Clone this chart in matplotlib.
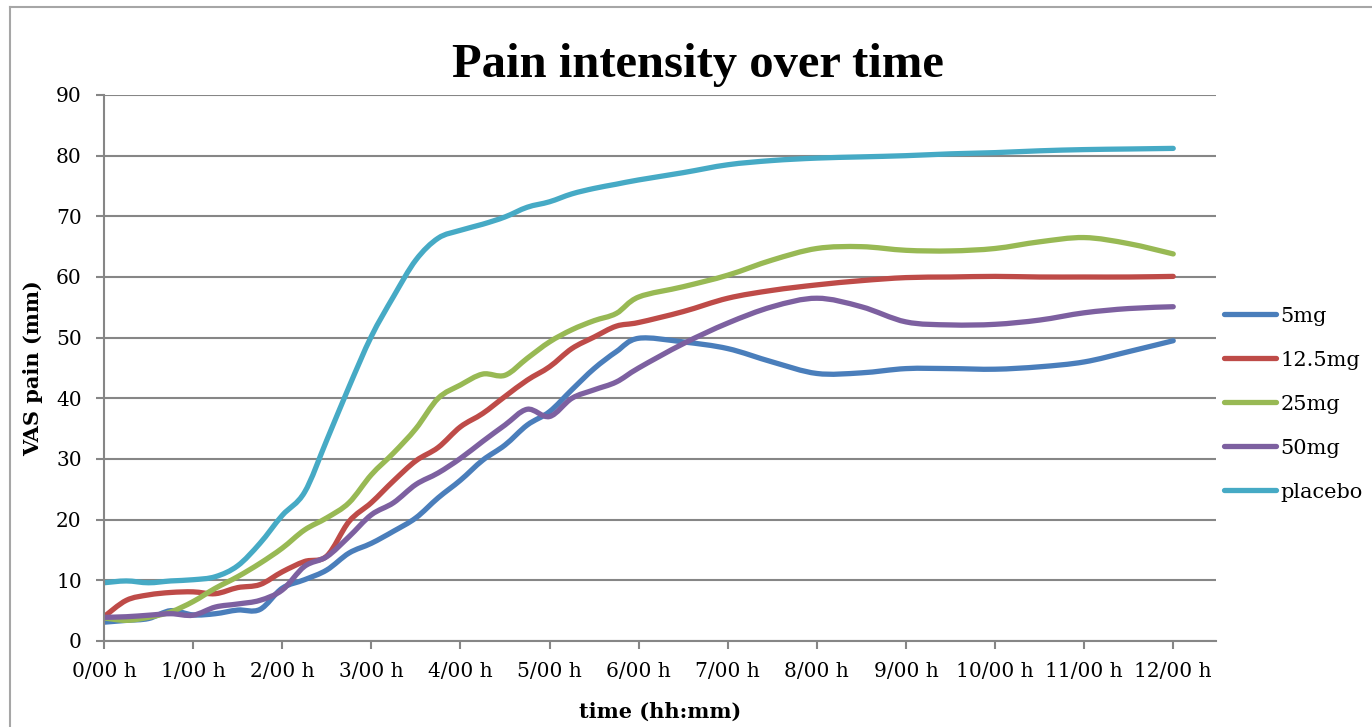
import numpy as np
import matplotlib
matplotlib.use("Agg")
import matplotlib.pyplot as plt
from matplotlib.path import Path
from matplotlib.patches import PathPatch
from matplotlib.lines import Line2D

# time in hours: every 15 min up to 6 h, then every 30 min
hours = [0.0, 0.25, 0.5, 0.75, 1.0, 1.25, 1.5, 1.75, 2.0, 2.25, 2.5, 2.75,
         3.0, 3.25, 3.5, 3.75, 4.0, 4.25, 4.5, 4.75, 5.0, 5.25, 5.5, 5.75,
         6.0, 6.5, 7.0, 7.5, 8.0, 8.5, 9.0, 9.5, 10.0, 10.5, 11.0, 11.5, 12.0]

pain_5mg = [3.1, 3.4, 3.7, 5.0, 4.3, 4.5, 5.1, 5.2, 8.7, 10.1, 11.7, 14.5,
            16.1, 18.1, 20.3, 23.6, 26.5, 29.8, 32.3, 35.6, 37.8, 41.4, 44.9, 47.7,
            49.9, 49.3, 48.2, 46.0, 44.1, 44.2, 44.9, 44.9, 44.8, 45.2, 46.0, 47.7, 49.5]
pain_12_5mg = [4.0, 6.7, 7.6, 8.0, 8.1, 7.8, 8.8, 9.3, 11.4, 13.1, 14.0, 19.7,
               22.8, 26.4, 29.7, 31.9, 35.3, 37.5, 40.3, 43.0, 45.2, 48.2, 50.1, 51.9,
               52.5, 54.3, 56.5, 57.8, 58.7, 59.4, 59.9, 60.0, 60.1, 60.0, 60.0, 60.0, 60.1]
pain_25mg = [3.8, 3.4, 3.9, 4.8, 6.5, 8.7, 10.6, 12.8, 15.3, 18.3, 20.3, 22.8,
             27.4, 31.0, 35.0, 40.0, 42.2, 44.0, 43.8, 46.6, 49.3, 51.3, 52.8, 54.0,
             56.7, 58.4, 60.3, 62.8, 64.7, 65.0, 64.4, 64.3, 64.7, 65.8, 66.5, 65.5, 63.8]
pain_50mg = [3.9, 4.0, 4.25, 4.5, 4.25, 5.6, 6.1, 6.7, 8.4, 12.3, 13.9, 17.2,
             20.8, 22.8, 25.8, 27.7, 30.1, 32.9, 35.6, 38.2, 37.0, 40.0, 41.4, 42.7,
             45.0, 49.0, 52.4, 55.1, 56.5, 55.1, 52.6, 52.1, 52.2, 52.9, 54.1, 54.8, 55.1]
pain_placebo = [9.6, 9.9, 9.6, 9.9, 10.1, 10.6, 12.4, 16.1, 20.7, 24.5, 33.1, 41.9,
                50.2, 56.8, 62.8, 66.4, 67.7, 68.7, 69.9, 71.5, 72.4, 73.7, 74.6, 75.3,
                76.0, 77.2, 78.5, 79.2, 79.6, 79.8, 80.0, 80.3, 80.5, 80.8, 81.0, 81.1, 81.2]

series_names = ["5mg", "12.5mg", "25mg", "50mg", "placebo"]
series_vals = [pain_5mg, pain_12_5mg, pain_25mg, pain_50mg, pain_placebo]
colors = ["#4A7EBB", "#BE4B48", "#98B954", "#7D60A0", "#46AAC5"]

tick_hours = list(range(13))
tick_labels = ["%d/00 h" % h for h in tick_hours]


def smooth_path(xs, ys):
    # Excel-like "smoothed line": cubic bezier segments through the data points
    p = np.column_stack([xs, ys]).astype(float)
    verts = [p[0]]
    codes = [Path.MOVETO]
    n = len(p)
    for i in range(n - 1):
        p0 = p[i - 1] if i > 0 else p[i]
        p3 = p[i + 2] if i + 2 < n else p[i + 1]
        c1 = p[i] + (p[i + 1] - p0) / 6.0
        c2 = p[i + 1] - (p3 - p[i]) / 6.0
        verts += [c1, c2, p[i + 1]]
        codes += [Path.CURVE4] * 3
    return Path(verts, codes)


plt.rcParams["font.family"] = "DejaVu Serif"

fig = plt.figure(figsize=(13.72, 7.27), dpi=100)
# outer chart border (only left and top edges fall inside the picture)
fig.add_artist(Line2D([10/1372, 10/1372], [0, 1 - 7/727], transform=fig.transFigure,
                      color="#a6a6a6", linewidth=1.5))
fig.add_artist(Line2D([10/1372, 1], [1 - 7/727, 1 - 7/727], transform=fig.transFigure,
                      color="#a6a6a6", linewidth=1.5))

ax = fig.add_axes([104/1372, 1 - 641/727, (1216 - 104)/1372, (641 - 95)/727])

handles = []
for name, vals, c in zip(series_names, series_vals, colors):
    ax.add_patch(PathPatch(smooth_path(hours, vals), facecolor="none", edgecolor=c,
                           linewidth=3.8, capstyle="round", joinstyle="round"))
    handles.append(Line2D([], [], color=c, linewidth=3.8, solid_capstyle="round",
                          label=name))

ax.set_xlim(0, 12.48)
ax.set_ylim(0, 90)
ax.set_yticks(range(0, 91, 10))
ax.set_xticks(tick_hours)
ax.set_xticklabels(tick_labels)
ax.grid(axis="y", color="#868686", linewidth=1.5)
ax.set_axisbelow(True)
for s in ["top", "right"]:
    ax.spines[s].set_visible(False)
for s in ["left", "bottom"]:
    ax.spines[s].set_color("#868686")
    ax.spines[s].set_linewidth(1.5)
ax.tick_params(axis="both", direction="out", length=6, width=1.5, color="#868686",
               labelsize=14.5, labelcolor="black")
ax.tick_params(axis="x", pad=9)
ax.tick_params(axis="y", pad=10)

fig.text(660/1372, 1 - 712/727, "time (hh:mm)", ha="center", va="center",
         fontsize=15, fontweight="bold")
fig.text(33/1372, 1 - 368/727, "VAS pain (mm)", ha="center", va="center",
         rotation=90, fontsize=15, fontweight="bold")

fig.text(698/1372, 1 - 77/727, "Pain intensity over time", ha="center", va="baseline",
         fontsize=35, fontweight="bold", family="Liberation Serif")

ax.legend(handles=handles, loc="center left", bbox_to_anchor=(1.0, 0.434), frameon=False,
          fontsize=15, handlelength=2.5, labelspacing=1.2, handletextpad=0.2,
          borderaxespad=0.0)

fig.savefig("out.png", dpi=100)
